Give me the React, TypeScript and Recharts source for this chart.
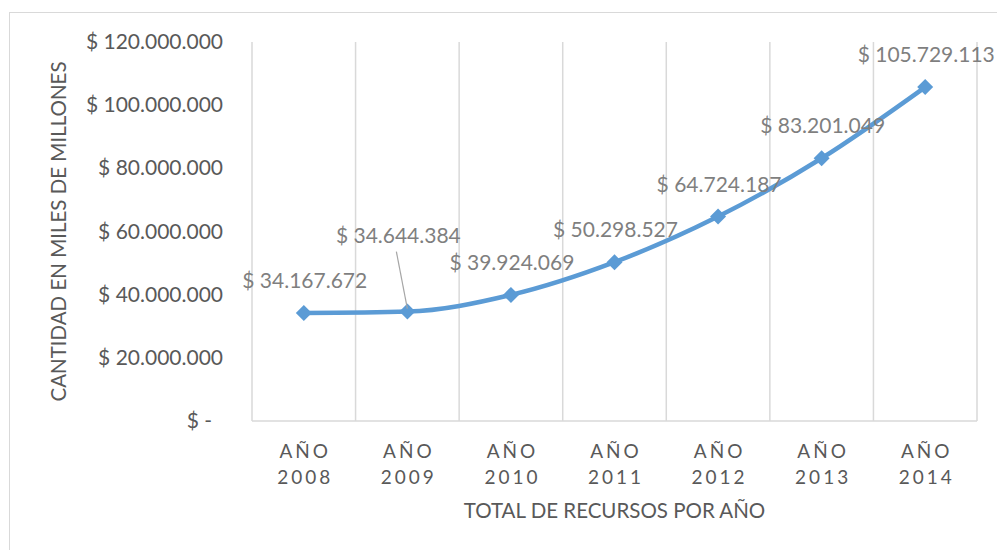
import { LabelList, Line, LineChart, ReferenceLine, XAxis, YAxis } from 'recharts'

const categories = ['AÑO 2008', 'AÑO 2009', 'AÑO 2010', 'AÑO 2011', 'AÑO 2012', 'AÑO 2013', 'AÑO 2014']
const recursos = [34167672, 34644384, 39924069, 50298527, 64724187, 83201049, 105729113]
const yTicks = [0, 20000000, 40000000, 60000000, 80000000, 100000000, 120000000]

const data = categories.map((c, i) => ({ idx: i, name: c, value: recursos[i] }))
const boundaries = categories.map((_, i) => i - 0.5).concat(categories.length - 0.5)

const FONT = 'Lato, "Open Sans", sans-serif'
const BLUE = '#5B9BD5'
const GRID = '#d9d9d9'

const money = (v: number) => (v === 0 ? '$ -' : '$ ' + String(v).replace(/\B(?=(\d{3})+(?!\d))/g, '.'))

function XTick({ x, y, payload }: any) {
  const [a, b] = categories[payload.value].split(' ')
  return (
    <text x={x} y={y} textAnchor="middle" fill="#595959" fontSize={19} letterSpacing={3} fontFamily={FONT}>
      <tspan x={x + 1.5} dy={35}>{a}</tspan>
      <tspan x={x + 1.5} dy={26}>{b}</tspan>
    </text>
  )
}

function YTick({ x, y, payload }: any) {
  return (
    <text x={payload.value === 0 ? x - 11 : x} y={y} dy={7} textAnchor="end" fill="#595959" fontSize={21} fontFamily={FONT}>
      {money(payload.value)}
    </text>
  )
}

function Diamond({ cx, cy, index }: any) {
  const r = 8
  return <polygon key={index} points={`${cx},${cy - r} ${cx + r},${cy} ${cx},${cy + r} ${cx - r},${cy}`} fill={BLUE} />
}

function ValueLabel({ x, y, value, index }: any) {
  const style = { fontSize: 21, fontFamily: FONT, fill: '#7f7f7f' }
  if (index === 1) {
    // label dragged up-left with a leader line, as in the original sheet
    return (
      <g>
        <line x1={x - 11} y1={y - 60} x2={x} y2={y - 3} stroke="#a6a6a6" strokeWidth={1.2} />
        <text x={x - 9} y={y - 69} textAnchor="middle" {...style}>{money(value)}</text>
      </g>
    )
  }
  return (
    <text x={x + 1} y={y - 25} textAnchor="middle" {...style}>{money(value)}</text>
  )
}

export default function App() {
  return (
    <div style={{ position: 'absolute', left: 0, top: 0, width: 997, height: 550, overflow: 'hidden', background: '#fff' }}>
      <div style={{ position: 'absolute', left: 9, top: 12, width: 1100, height: 700, border: `1px solid ${GRID}` }} />
      <div style={{ position: 'absolute', left: 0, top: 0 }}>
        <LineChart width={997} height={550} data={data} margin={{ top: 42, right: 20, left: 0, bottom: 0 }}>
          {boundaries.map((b) => (
            <ReferenceLine key={b} x={b} stroke={GRID} strokeWidth={1.5} />
          ))}
          <XAxis
            dataKey="idx"
            type="number"
            domain={[-0.5, categories.length - 0.5]}
            ticks={categories.map((_, i) => i)}
            height={129}
            tick={<XTick />}
            tickLine={false}
            tickSize={0}
            axisLine={{ stroke: GRID, strokeWidth: 1.5 }}
            label={{ value: 'TOTAL DE RECURSOS POR AÑO', position: 'insideBottom', offset: 32, style: { fontSize: 20.5, fill: '#595959', fontFamily: FONT } }}
          />
          <YAxis
            type="number"
            domain={[0, 120000000]}
            ticks={yTicks}
            width={252}
            tick={<YTick />}
            tickLine={false}
            tickSize={0}
            tickMargin={29}
            axisLine={false}
            label={{ value: 'CANTIDAD EN MILES DE MILLONES', angle: -90, position: 'insideLeft', offset: 59, style: { textAnchor: 'middle', fontSize: 20.5, fill: '#595959', fontFamily: FONT } }}
          />
          <Line
            dataKey="value"
            type="monotone"
            stroke={BLUE}
            strokeWidth={4.5}
            dot={(p: any) => <Diamond {...p} />}
            activeDot={false}
            isAnimationActive={false}
          >
            <LabelList dataKey="value" content={(p: any) => <ValueLabel {...p} />} />
          </Line>
        </LineChart>
      </div>
    </div>
  )
}
